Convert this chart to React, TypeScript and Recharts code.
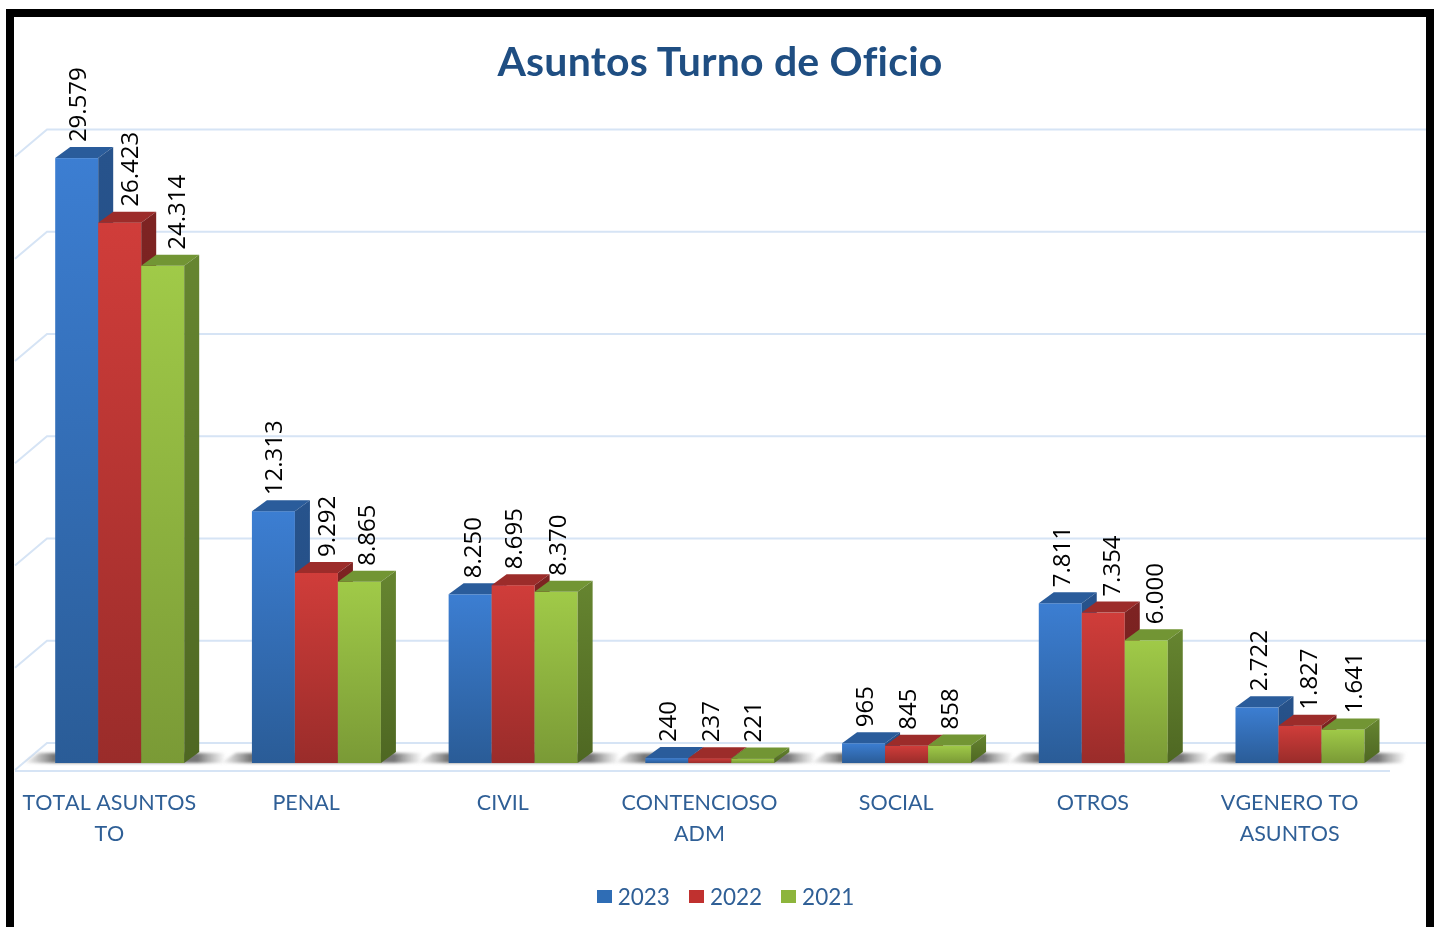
import React from "react"
import { BarChart, Bar, XAxis, YAxis, CartesianGrid, Legend, LabelList } from "recharts"

const categories = [
  "TOTAL ASUNTOS\nTO",
  "PENAL",
  "CIVIL",
  "CONTENCIOSO\nADM",
  "SOCIAL",
  "OTROS",
  "VGENERO TO\nASUNTOS",
]
const values2023 = [29579, 12313, 8250, 240, 965, 7811, 2722]
const values2022 = [26423, 9292, 8695, 237, 845, 7354, 1827]
const values2021 = [24314, 8865, 8370, 221, 858, 6000, 1641]
const yTicks = [0, 5000, 10000, 15000, 20000, 25000, 30000]

// labels sit a bit right of their bar where the neighbour's side face is in the way
const labelNudge = [
  [1, 10, 14],
  [0, 10, 7],
  [2, 0, 1],
  [1, 1, 0],
  [1, 1, 0],
  [1, 8, 8],
  [1, 8, 10],
]

const data = categories.map((name, i) => ({
  name,
  y2023: values2023[i],
  y2022: values2022[i],
  y2021: values2021[i],
}))

const seriesStyle = [
  { key: "y2023", label: "2023", swatch: "#2F6DB5", light: "#3C7ED2", dark: "#2A5C97", side: "#27538C", sideDark: "#234B80", top: "#2A5C9B" },
  { key: "y2022", label: "2022", swatch: "#C0312F", light: "#D03D3A", dark: "#9A2C2A", side: "#7E2322", sideDark: "#6E1F1E", top: "#9C2C2A" },
  { key: "y2021", label: "2021", swatch: "#8DB53C", light: "#A0CA48", dark: "#7A9A36", side: "#668530", sideDark: "#4E6722", top: "#729534" },
]

const depthX = 15
const depthY = 11
const textBlue = "#2F5F96"
const uiFont = "Lato, 'Open Sans', sans-serif"

function fmt(v: number) {
  return String(v).replace(/\B(?=(\d{3})+$)/g, ".")
}

function Bar3D(props: any) {
  const { x, y, width: w, height: h, series } = props
  const s = seriesStyle[series]
  const dx = depthX
  const dy = depthY
  return (
    <g>
      {series === 0 && (
        <polygon
          points={`${x - 32},${y + h} ${x - 16},${y + h - 10} ${x + 3 * w + 42},${y + h - 10} ${x + 3 * w + 38},${y + h}`}
          fill="url(#floorShadow)"
          filter="url(#softShadow)"
        />
      )}
      <rect x={x} y={y} width={w} height={h} fill={`url(#front${series})`} />
      <polygon points={`${x},${y} ${x + dx},${y - dy} ${x + w + dx},${y - dy} ${x + w},${y}`} fill={s.top} />
      <polygon
        points={`${x + w},${y} ${x + w + dx},${y - dy} ${x + w + dx},${y + h - dy} ${x + w},${y + h}`}
        fill={`url(#side${series})`}
      />
    </g>
  )
}

function ValueLabel(props: any) {
  const { x, y, width, value, index, series } = props
  const cx = x + width / 2 + labelNudge[index][series]
  const by = y - depthY - 5
  return (
    <text
      transform={`rotate(-90 ${cx} ${by})`}
      x={cx}
      y={by}
      dy="0.36em"
      fontFamily="'Open Sans', sans-serif"
      fontSize={24}
      fill="#000"
    >
      {fmt(value)}
    </text>
  )
}

function CategoryTick(props: any) {
  const { x, y, payload } = props
  return (
    <text
      x={x - 11}
      y={y}
      textAnchor="middle"
      fontFamily={uiFont}
      fontSize={21.5}
      fill={textBlue}
      style={{ fontKerning: "none" }}
    >
      {String(payload.value)
        .split("\n")
        .map((line, i) => (
          <tspan key={i} x={x - 11} dy={i === 0 ? 0 : 31}>
            {line}
          </tspan>
        ))}
    </text>
  )
}

function GridLine(props: any) {
  const { x1, x2, y1, index } = props
  const c = "#D6E4F5"
  return (
    <g key={`g${index}`} fill="none" stroke={c} strokeWidth={2}>
      <path d={`M ${x1 - 7} ${y1 + 7} L ${x1 + 25} ${y1 - 20} L ${x2 + 27} ${y1 - 20}`} />
      {y1 > 700 && <path d={`M ${x1 - 7} ${y1 + 8} L ${x2 - 9} ${y1 + 8}`} />}
    </g>
  )
}

function LegendRow(props: any) {
  return (
    <div style={{ display: "flex", justifyContent: "center", alignItems: "center", height: 32, marginLeft: 9 }}>
      {seriesStyle.map((s, i) => (
        <span key={s.key} style={{ display: "flex", alignItems: "center", marginLeft: i === 0 ? 0 : 19 }}>
          <span style={{ width: 15, height: 13, background: s.swatch, marginRight: 6, display: "inline-block" }} />
          <span style={{ fontFamily: uiFont, fontSize: 22.5, color: textBlue }}>{s.label}</span>
        </span>
      ))}
    </div>
  )
}

export default function App() {
  return (
    <div style={{ position: "absolute", left: 0, top: 0, width: 1442, height: 927, overflow: "hidden", background: "#fff" }}>
      {/* the reference is a soft, upscaled screenshot */}
      <div style={{ filter: "blur(0.6px)" }}>
        <BarChart
          width={1442}
          height={927}
          data={data}
          barGap={0}
          barCategoryGap={33.2}
          margin={{ top: 149.5, right: 43, left: 22, bottom: 22 }}
        >
          <defs>
            {seriesStyle.map((s, i) => (
              <linearGradient key={s.key} id={`front${i}`} x1="0" y1="0" x2="0" y2="1">
                <stop offset="0%" stopColor={s.light} />
                <stop offset="100%" stopColor={s.dark} />
              </linearGradient>
            ))}
            {seriesStyle.map((s, i) => (
              <linearGradient key={s.key} id={`side${i}`} x1="0" y1="0" x2="0" y2="1">
                <stop offset="0%" stopColor={s.side} />
                <stop offset="100%" stopColor={s.sideDark} />
              </linearGradient>
            ))}
            <linearGradient id="floorShadow" x1="0" y1="0" x2="1" y2="0">
              <stop offset="0%" stopColor="#8a8a8a" stopOpacity={0} />
              <stop offset="15%" stopColor="#6e6e6e" stopOpacity={0.95} />
              <stop offset="86%" stopColor="#6e6e6e" stopOpacity={0.95} />
              <stop offset="100%" stopColor="#8a8a8a" stopOpacity={0} />
            </linearGradient>
            <filter id="softShadow" x="-5%" y="-30%" width="110%" height="160%">
              <feGaussianBlur stdDeviation="1.5" />
            </filter>
          </defs>

          <CartesianGrid vertical={false} horizontal={(p: any) => <GridLine {...p} />} />
          <XAxis
            dataKey="name"
            interval={0}
            height={110}
            axisLine={false}
            tickLine={false}
            tickMargin={0}
            tick={(p: any) => <CategoryTick {...p} y={810} />}
          />
          <YAxis hide domain={[0, 30000]} ticks={yTicks} />
          <Legend
            height={32}
            content={(p: any) => <LegendRow {...p} />}
            wrapperStyle={{ left: 0, width: 1442, top: 880 }}
          />

          {seriesStyle.map((s, i) => (
            <Bar
              key={s.key}
              dataKey={s.key}
              name={s.label}
              fill={s.swatch}
              isAnimationActive={false}
              shape={(p: any) => <Bar3D {...p} series={i} />}
            >
              <LabelList dataKey={s.key} content={(p: any) => <ValueLabel {...p} series={i} />} />
            </Bar>
          ))}

          <text
            x={720}
            y={76}
            textAnchor="middle"
            fontFamily={uiFont}
            fontWeight={700}
            fontSize={41}
            fill="#1F4E82"
            style={{ fontVariantLigatures: "none", letterSpacing: 0.2 }}
          >
            Asuntos Turno de Oficio
          </text>
        </BarChart>
      </div>
      {/* heavy black frame of the screenshot */}
      <div
        style={{
          position: "absolute",
          left: 6,
          top: 9,
          width: 1412,
          height: 940,
          border: "8px solid #000",
          pointerEvents: "none",
        }}
      />
    </div>
  )
}
